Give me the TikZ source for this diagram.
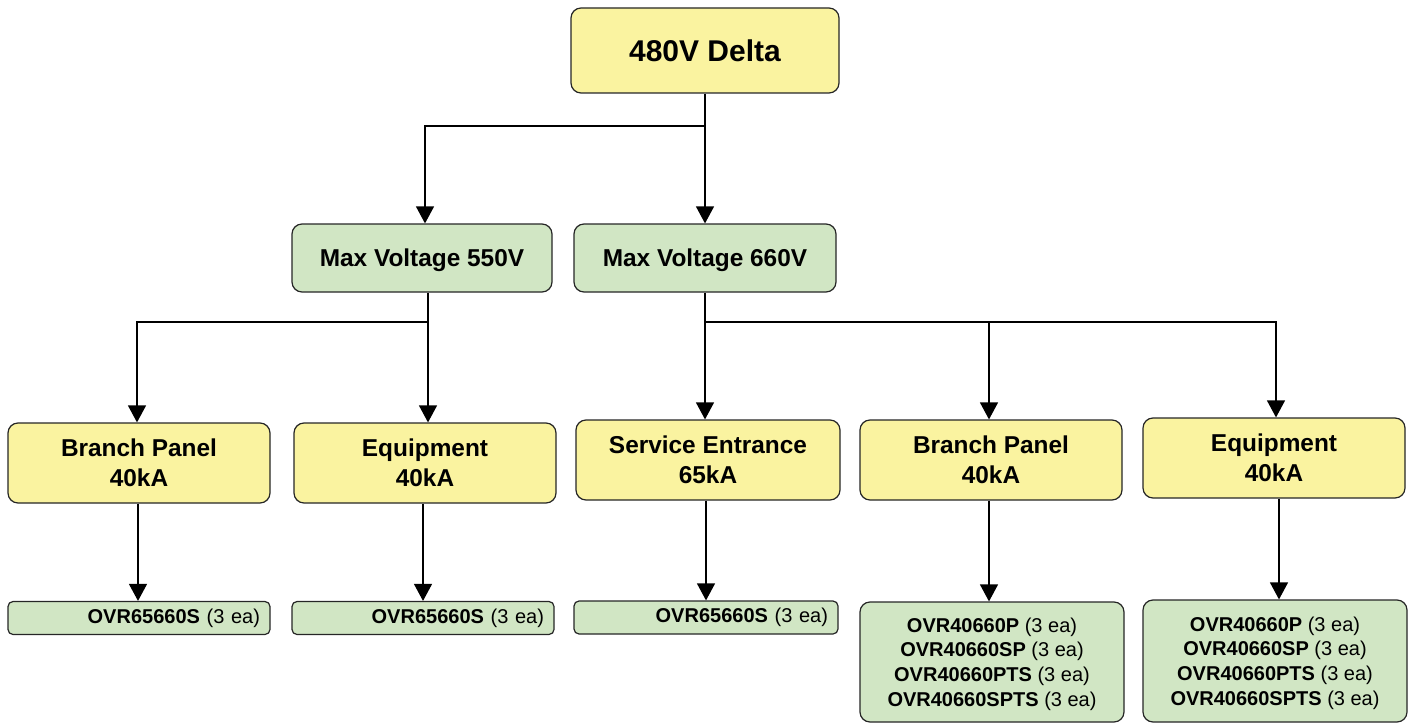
\documentclass[tikz,border=0pt]{standalone}
\usepackage{fontspec}
\setmainfont{Liberation Sans}
\usetikzlibrary{arrows.meta}
\definecolor{ylw}{RGB}{250,243,160}
\definecolor{grn}{RGB}{209,230,196}
\begin{document}
\begin{tikzpicture}[x=1pt,y=-1pt,
  box/.style={draw=black!85, line width=1.2pt, rounded corners=10pt, inner sep=0pt, align=center},
  ybox/.style={box, fill=ylw},
  gbox/.style={box, fill=grn},
  arr/.style={line width=1.2pt, -{Triangle[width=18pt,length=17pt]}},
  big/.style={font=\fontsize{30}{36}\selectfont\bfseries},
  mid/.style={font=\fontsize{24.4}{29.5}\selectfont\bfseries},
  small/.style={font=\fontsize{20}{24.8}\selectfont},
  onebox/.style={gbox, small, rounded corners=5pt, minimum width=#1, minimum height=33pt, text width=#1-20pt, align=right},
]
\useasboundingbox (0,0) rectangle (1409,725);
% level 1
\node[ybox, big, minimum width=268pt, minimum height=85pt] (top) at (705,50.5) {480V Delta};
% level 2
\node[gbox, mid, text depth=0pt, minimum width=260pt, minimum height=68pt] (m1) at (422,258) {Max Voltage 550V};
\node[gbox, mid, text depth=0pt, minimum width=262pt, minimum height=68pt] (m2) at (705,258) {Max Voltage 660V};
% level 3
\node[ybox, mid, minimum width=262pt, minimum height=80pt] (b1) at (139,463) {Branch Panel\\40kA};
\node[ybox, mid, minimum width=262pt, minimum height=80pt] (e1) at (425,463) {Equipment\\40kA};
\node[ybox, mid, minimum width=264pt, minimum height=80pt] (se) at (708,460) {Service Entrance\\65kA};
\node[ybox, mid, minimum width=262pt, minimum height=80pt] (b2) at (991,460) {Branch Panel\\40kA};
\node[ybox, mid, minimum width=262pt, minimum height=80pt] (e2) at (1274,458) {Equipment\\40kA};
% level 4
\node[onebox=262pt] (o1) at (139,618) {\textbf{OVR65660S} (3 ea)};
\node[onebox=262pt] (o2) at (423,618) {\textbf{OVR65660S} (3 ea)};
\node[onebox=264pt] (o3) at (706,617.5) {\textbf{OVR65660S} (3 ea)};
\node[gbox, small, text depth=0pt, minimum width=264pt, minimum height=120pt] (o4) at (992,662)
  {\textbf{OVR40660P} (3 ea)\\\textbf{OVR40660SP} (3 ea)\\\textbf{OVR40660PTS} (3 ea)\\\textbf{OVR40660SPTS} (3 ea)};
\node[gbox, small, text depth=0pt, minimum width=264pt, minimum height=122pt] (o5) at (1275,661)
  {\textbf{OVR40660P} (3 ea)\\\textbf{OVR40660SP} (3 ea)\\\textbf{OVR40660PTS} (3 ea)\\\textbf{OVR40660SPTS} (3 ea)};
% junctions
\coordinate (j1) at (705,126);
\coordinate (j2) at (428,322);
\coordinate (j3) at (705,322);
% connectors
\draw[arr] (top.south) -- (j1) -| ([xshift=3pt]m1.north);
\draw[arr] (j1) -- (m2.north);
\draw[arr] ([xshift=6pt]m1.south) -- (j2) -| ([xshift=-2pt]b1.north);
\draw[arr] (j2) -- ([xshift=3pt]e1.north);
\draw[arr] (m2.south) -- (j3) -- ([xshift=-3pt]se.north);
\draw[arr] (j3) -| ([xshift=-2pt]b2.north);
\draw[arr] (j3) -| ([xshift=2pt]e2.north);
\draw[arr] ([xshift=-1pt]b1.south) -- ([xshift=-1pt]o1.north);
\draw[arr] ([xshift=-2pt]e1.south) -- (o2.north);
\draw[arr] ([xshift=-2pt]se.south) -- (o3.north);
\draw[arr] ([xshift=-2pt]b2.south) -- ([xshift=-3pt]o4.north);
\draw[arr] ([xshift=5pt]e2.south) -- ([xshift=4pt]o5.north);
\end{tikzpicture}
\end{document}
